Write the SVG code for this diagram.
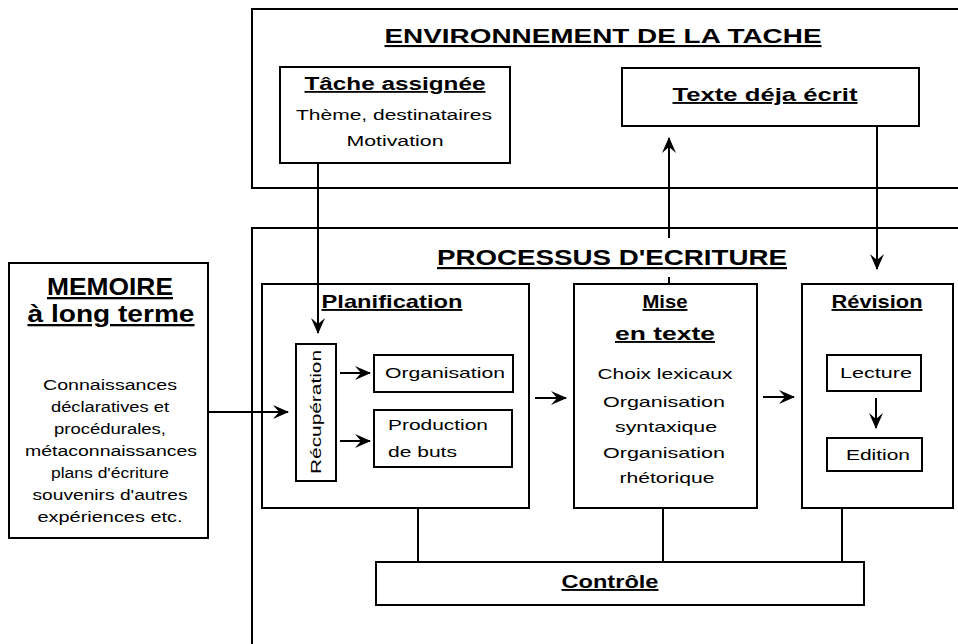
<svg xmlns="http://www.w3.org/2000/svg" width="958" height="644" viewBox="0 0 958 644">
<style>
.box{fill:none;stroke:#000;stroke-width:2}
.ln{fill:none;stroke:#000;stroke-width:2}
.h{font-family:"Liberation Sans",Arial,sans-serif;font-weight:bold;text-anchor:middle;text-decoration:underline;fill:#000}
.b{font-family:"Liberation Sans",Arial,sans-serif;text-anchor:middle;fill:#000}
.s{text-anchor:start}
</style>
<defs>
<marker id="ah" viewBox="-16 -8 18 16" refX="0" refY="0" markerWidth="18" markerHeight="16" markerUnits="userSpaceOnUse" orient="auto">
<path d="M1,0 L-15,-7 L-9,0 L-15,7 Z" fill="#000"/>
</marker>
</defs>
<rect width="958" height="644" fill="#fff"/>

<g id="environnement">
<rect class="box" x="252" y="9" width="720" height="179"/>
<text class="h" x="603" y="43" font-size="21" textLength="437" lengthAdjust="spacingAndGlyphs">ENVIRONNEMENT DE LA TACHE</text>
</g>

<g id="processus">
<rect class="box" x="252" y="228" width="720" height="440"/>
<text class="h" x="612" y="265" font-size="22" textLength="350" lengthAdjust="spacingAndGlyphs">PROCESSUS D'ECRITURE</text>
</g>

<g id="tache">
<rect class="box" x="280" y="67" width="230" height="96"/>
<text class="h" x="395" y="90" font-size="18" textLength="181" lengthAdjust="spacingAndGlyphs">Tâche assignée</text>
<text class="b" x="394" y="120" font-size="14" textLength="196" lengthAdjust="spacingAndGlyphs">Thème, destinataires</text>
<text class="b" x="395" y="146" font-size="14" textLength="97" lengthAdjust="spacingAndGlyphs">Motivation</text>
</g>

<g id="texte">
<rect class="box" x="622" y="68" width="297" height="58"/>
<text class="h" x="765" y="101" font-size="19" textLength="185" lengthAdjust="spacingAndGlyphs">Texte déja écrit</text>
</g>

<g id="memoire">
<rect class="box" x="9" y="263" width="199" height="275"/>
<text class="h" x="110" y="295" font-size="23" textLength="126" lengthAdjust="spacingAndGlyphs">MEMOIRE</text>
<text class="h" x="111" y="322" font-size="23" textLength="167" lengthAdjust="spacingAndGlyphs">à long terme</text>
<text class="b" x="110" y="390" font-size="14" textLength="134" lengthAdjust="spacingAndGlyphs">Connaissances</text>
<text class="b" x="110" y="412" font-size="14" textLength="118" lengthAdjust="spacingAndGlyphs">déclaratives et</text>
<text class="b" x="110" y="434" font-size="14" textLength="112" lengthAdjust="spacingAndGlyphs">procédurales,</text>
<text class="b" x="111" y="456" font-size="14" textLength="172" lengthAdjust="spacingAndGlyphs">métaconnaissances</text>
<text class="b" x="110" y="478" font-size="14" textLength="118" lengthAdjust="spacingAndGlyphs">plans d'écriture</text>
<text class="b" x="110" y="500" font-size="14" textLength="155" lengthAdjust="spacingAndGlyphs">souvenirs d'autres</text>
<text class="b" x="110" y="522" font-size="14" textLength="145" lengthAdjust="spacingAndGlyphs">expériences etc.</text>
</g>

<g id="planification">
<rect class="box" x="262" y="284" width="267" height="224"/>
<text class="h" x="392" y="308" font-size="19" textLength="141" lengthAdjust="spacingAndGlyphs">Planification</text>
</g>

<g id="recuperation">
<rect class="box" x="296" y="344" width="40" height="137"/>
<text class="b" transform="translate(321,412) rotate(-90)" x="0" y="0" font-size="14" textLength="124" lengthAdjust="spacingAndGlyphs">Récupération</text>
</g>

<g id="organisation">
<rect class="box" x="374" y="355" width="139" height="37"/>
<text class="b" x="445" y="378" font-size="15" textLength="120" lengthAdjust="spacingAndGlyphs">Organisation</text>
</g>

<g id="production">
<rect class="box" x="374" y="410" width="138" height="57"/>
<text class="b s" x="388" y="430" font-size="15" textLength="100" lengthAdjust="spacingAndGlyphs">Production</text>
<text class="b s" x="388" y="457" font-size="15" textLength="69" lengthAdjust="spacingAndGlyphs">de buts</text>
</g>

<g id="mise-en-texte">
<rect class="box" x="574" y="284" width="183" height="224"/>
<text class="h" x="665" y="308" font-size="19" textLength="45" lengthAdjust="spacingAndGlyphs">Mise</text>
<text class="h" x="665" y="340" font-size="19" textLength="100" lengthAdjust="spacingAndGlyphs">en texte</text>
<text class="b" x="665" y="379" font-size="15" textLength="135" lengthAdjust="spacingAndGlyphs">Choix lexicaux</text>
<text class="b" x="664" y="407" font-size="15" textLength="122" lengthAdjust="spacingAndGlyphs">Organisation</text>
<text class="b" x="666" y="432" font-size="15" textLength="102" lengthAdjust="spacingAndGlyphs">syntaxique</text>
<text class="b" x="664" y="458" font-size="15" textLength="122" lengthAdjust="spacingAndGlyphs">Organisation</text>
<text class="b" x="667" y="483" font-size="15" textLength="95" lengthAdjust="spacingAndGlyphs">rhétorique</text>
</g>

<g id="revision">
<rect class="box" x="802" y="284" width="151" height="224"/>
<text class="h" x="877" y="308" font-size="19" textLength="91" lengthAdjust="spacingAndGlyphs">Révision</text>
</g>

<g id="lecture">
<rect class="box" x="827" y="355" width="94" height="36"/>
<text class="b" x="876" y="378" font-size="15" textLength="72" lengthAdjust="spacingAndGlyphs">Lecture</text>
</g>

<g id="edition">
<rect class="box" x="827" y="438" width="95" height="33"/>
<text class="b" x="878" y="460" font-size="15" textLength="64" lengthAdjust="spacingAndGlyphs">Edition</text>
</g>

<g id="controle">
<rect class="box" x="376" y="562" width="488" height="43"/>
<text class="h" x="610" y="588" font-size="19" textLength="97" lengthAdjust="spacingAndGlyphs">Contrôle</text>
</g>

<g id="connectors">
<line class="ln" x1="318" y1="163" x2="318" y2="333" marker-end="url(#ah)"/>
<line class="ln" x1="208" y1="412" x2="288" y2="412" marker-end="url(#ah)"/>
<line class="ln" x1="340" y1="373" x2="370" y2="373" marker-end="url(#ah)"/>
<line class="ln" x1="340" y1="441" x2="370" y2="441" marker-end="url(#ah)"/>
<line class="ln" x1="535" y1="398" x2="566" y2="398" marker-end="url(#ah)"/>
<line class="ln" x1="763" y1="397" x2="794" y2="397" marker-end="url(#ah)"/>
<line class="ln" x1="876" y1="398" x2="876" y2="428" marker-end="url(#ah)"/>
<line class="ln" x1="669" y1="284" x2="669" y2="277"/>
<line class="ln" x1="669" y1="238" x2="669" y2="138" marker-end="url(#ah)"/>
<line class="ln" x1="877" y1="126" x2="877" y2="269" marker-end="url(#ah)"/>
<line class="ln" x1="418" y1="508" x2="418" y2="562"/>
<line class="ln" x1="663" y1="508" x2="663" y2="562"/>
<line class="ln" x1="842" y1="508" x2="842" y2="562"/>
</g>
</svg>
